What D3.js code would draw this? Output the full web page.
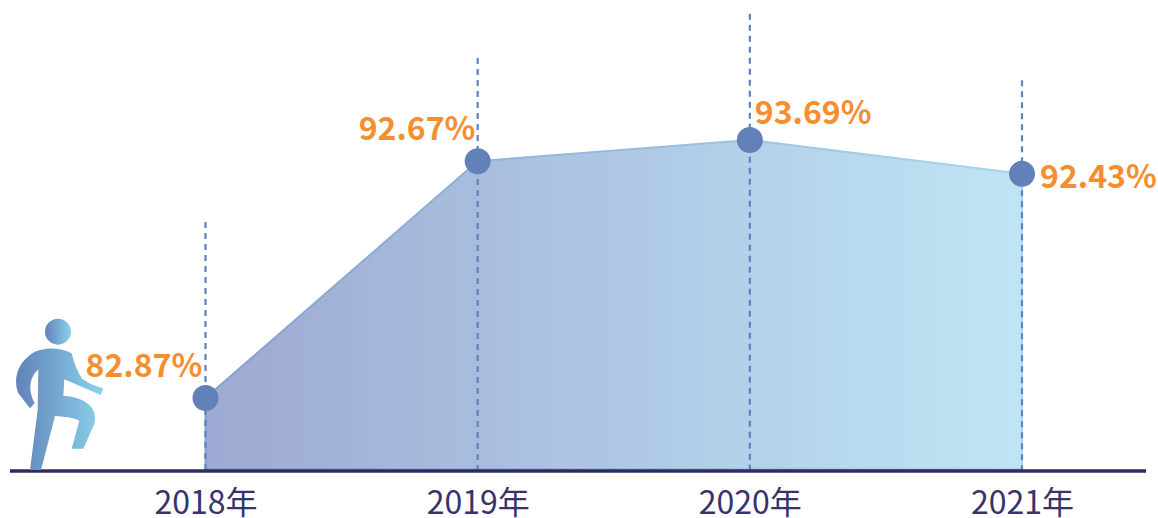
<!DOCTYPE html>
<html>
<head>
<meta charset="utf-8">
<script src="https://cdn.jsdelivr.net/npm/d3@7"></script>
<style>
html, body { margin: 0; padding: 0; background: #fff; }
svg { display: block; }
text { font-family: "Noto Sans CJK SC", "Noto Sans", sans-serif; }
</style>
</head>
<body>
<div id="chart"></div>
<script>
const years = ['2018年', '2019年', '2020年', '2021年']
const labels = ['82.87%', '92.67%', '93.69%', '92.43%']
// heights as drawn in the picture, not quite the printed numbers
const values = [82.87, 92.8, 93.69, 92.27]
// where each dashed stem ends, same units
const stemTops = [90.25, 97.13, 98.98, 96.2]

const width = 1158
const height = 518

const x = d3.scalePoint().domain(years).range([205.5, 1022])
const y = d3.scaleLinear().domain([79.81, 93.69]).range([471, 140])

// label placement relative to its dot
const labelOffset = [[-120, -21], [-119, -21], [5, -16], [18, 14]]

const svg = d3.select('#chart')
  .append('svg')
  .attr('width', width)
  .attr('height', height)

const defs = svg.append('defs')

function addGradient(id, from, to) {
  const g = defs.append('linearGradient').attr('id', id)
  g.append('stop').attr('offset', '0%').attr('stop-color', from)
  g.append('stop').attr('offset', '100%').attr('stop-color', to)
}

addGradient('areaFill', '#9da9d2', '#bfe5f5')
addGradient('areaLine', '#84a0cd', '#a6d7ec')
addGradient('personFill', '#6282b9', '#89d3ea')

const points = years.map((d, i) => ({ year: d, value: values[i], top: stemTops[i], label: labels[i] }))

const area = d3.area()
  .x(d => x(d.year))
  .y0(y(y.domain()[0]) - 2)
  .y1(d => y(d.value))

svg.append('path')
  .datum(points)
  .attr('d', area)
  .attr('fill', 'url(#areaFill)')
  .attr('stroke', 'url(#areaLine)')
  .attr('stroke-width', 2)

svg.selectAll('.stem')
  .data(points)
  .join('line')
  .attr('class', 'stem')
  .attr('x1', d => x(d.year))
  .attr('x2', d => x(d.year))
  .attr('y1', d => y(d.top))
  .attr('y2', y(y.domain()[0]) - 1)
  .attr('stroke', '#5f82bd')
  .attr('stroke-width', 2.2)
  .attr('stroke-dasharray', '6 5')

svg.selectAll('.dot')
  .data(points)
  .join('circle')
  .attr('class', 'dot')
  .attr('cx', d => x(d.year))
  .attr('cy', d => y(d.value))
  .attr('r', 13)
  .attr('fill', '#6381b9')

svg.selectAll('.value')
  .data(points)
  .join('text')
  .attr('class', 'value')
  .attr('x', (d, i) => x(d.year) + labelOffset[i][0])
  .attr('y', (d, i) => y(d.value) + labelOffset[i][1])
  .attr('fill', '#f68e2f')
  .attr('font-size', 32)
  .attr('font-weight', 700)
  .text(d => d.label)

const xAxis = svg.append('g')
  .attr('transform', 'translate(0,' + y(y.domain()[0]) + ')')
  .call(d3.axisBottom(x).tickSize(0).tickPadding(20.5))

xAxis.select('.domain')
  .attr('d', 'M10,0H1146')
  .attr('stroke', '#2e2a63')
  .attr('stroke-width', 3.5)

xAxis.selectAll('text')
  .attr('fill', '#37336b')
  .attr('font-size', 32)
  .style('font-family', '"Noto Sans CJK SC", sans-serif')

// walking figure
const person = svg.append('g').attr('transform', 'translate(0,300) scale(0.3333)')

person.append('circle')
  .attr('cx', 174)
  .attr('cy', 95)
  .attr('r', 39)
  .attr('fill', 'url(#personFill)')

person.append('path')
  .attr('d', 'M90,510L123,510L165,348C190,350 220,352 238,362L215,446L250,446L283,372C295,330 265,292 190,287L193,238L302,285L310,265C285,258 262,248 246,236C232,215 222,190 215,160C180,140 120,140 90,165C50,195 40,240 55,280L90,325L104,310C85,275 85,235 115,208L113,330Z')
  .attr('fill', 'url(#personFill)')
</script>
</body>
</html>
